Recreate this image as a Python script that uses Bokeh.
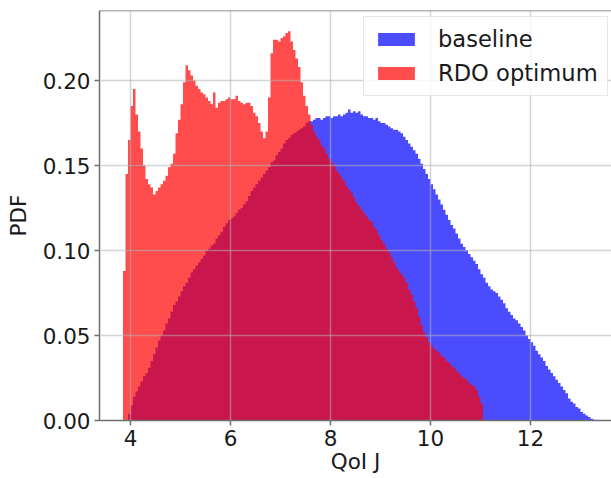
from bokeh.plotting import figure
from bokeh.models import Range1d, FixedTicker, NumeralTickFormatter, Span, Legend, LegendItem
from bokeh.embed import file_html
from bokeh.resources import INLINE

# ---- data (histogram PDFs, bin width 0.05) ----
bin_width = 0.05
baseline_start = 3.95
baseline_pdf = [
    0.004, 0.009, 0.014, 0.017, 0.020, 0.023, 0.026, 0.028, 0.031, 0.035,
    0.039, 0.043, 0.047, 0.050, 0.053, 0.057, 0.060, 0.064, 0.068, 0.070,
    0.073, 0.076, 0.079, 0.081, 0.084, 0.087, 0.089, 0.091, 0.093, 0.095,
    0.097, 0.100, 0.101, 0.103, 0.104, 0.107, 0.109, 0.111, 0.114, 0.116,
    0.118, 0.119, 0.120, 0.122, 0.124, 0.125, 0.127, 0.129, 0.132, 0.135,
    0.137, 0.139, 0.141, 0.143, 0.145, 0.147, 0.149, 0.152, 0.153, 0.156,
    0.158, 0.160, 0.163, 0.165, 0.166, 0.168, 0.169, 0.170, 0.171, 0.172,
    0.173, 0.175, 0.176, 0.176, 0.177, 0.178, 0.178, 0.177, 0.178, 0.179,
    0.179, 0.178, 0.179, 0.179, 0.180, 0.179, 0.180, 0.181, 0.183, 0.181,
    0.182, 0.181, 0.182, 0.180, 0.179, 0.179, 0.178, 0.178, 0.177, 0.178,
    0.176, 0.175, 0.175, 0.174, 0.173, 0.172, 0.171, 0.171, 0.170, 0.169,
    0.167, 0.165, 0.163, 0.161, 0.159, 0.157, 0.154, 0.151, 0.148, 0.145,
    0.142, 0.139, 0.136, 0.133, 0.130, 0.127, 0.124, 0.121, 0.118, 0.115,
    0.113, 0.110, 0.107, 0.104, 0.102, 0.100, 0.098, 0.096, 0.094, 0.092,
    0.089, 0.086, 0.084, 0.081, 0.079, 0.077, 0.076, 0.075, 0.073, 0.071,
    0.069, 0.066, 0.064, 0.062, 0.060, 0.059, 0.057, 0.055, 0.053, 0.050,
    0.048, 0.046, 0.044, 0.041, 0.039, 0.037, 0.035, 0.032, 0.030, 0.028,
    0.026, 0.024, 0.022, 0.020, 0.018, 0.016, 0.013, 0.011, 0.010, 0.008,
    0.007, 0.005, 0.004, 0.003, 0.002, 0.001, 0.0005,
]
rdo_start = 3.85
rdo_pdf = [
    0.088, 0.145, 0.165, 0.185, 0.195, 0.180, 0.170, 0.160, 0.150, 0.142,
    0.139, 0.137, 0.133, 0.135, 0.137, 0.139, 0.141, 0.144, 0.149, 0.151,
    0.157, 0.169, 0.177, 0.186, 0.199, 0.209, 0.206, 0.203, 0.200, 0.197,
    0.195, 0.193, 0.192, 0.190, 0.188, 0.186, 0.193, 0.184, 0.187, 0.188,
    0.188, 0.189, 0.190, 0.189, 0.189, 0.191, 0.188, 0.187, 0.186, 0.187,
    0.187, 0.185, 0.181, 0.179, 0.175, 0.170, 0.166, 0.170, 0.190, 0.216,
    0.224, 0.224, 0.223, 0.225, 0.226, 0.228, 0.229, 0.223, 0.218, 0.213,
    0.208, 0.199, 0.191, 0.185, 0.180, 0.174, 0.170, 0.167, 0.165, 0.162,
    0.160, 0.157, 0.154, 0.152, 0.150, 0.147, 0.145, 0.143, 0.141, 0.138,
    0.136, 0.134, 0.131, 0.128, 0.126, 0.124, 0.122, 0.120, 0.118, 0.117,
    0.114, 0.112, 0.109, 0.106, 0.104, 0.101, 0.099, 0.096, 0.093, 0.090,
    0.088, 0.086, 0.084, 0.081, 0.077, 0.074, 0.070, 0.066, 0.061, 0.056,
    0.052, 0.049, 0.046, 0.044, 0.042, 0.041, 0.040, 0.038, 0.037, 0.035,
    0.034, 0.032, 0.031, 0.029, 0.028, 0.026, 0.025, 0.024, 0.022, 0.021,
    0.020, 0.018, 0.014, 0.010,
]
series_names = ["baseline", "RDO optimum"]
x_ticks = [4, 6, 8, 10, 12]
y_ticks = [0.00, 0.05, 0.10, 0.15, 0.20]


def step_outline(start, width, vals):
    xs, ys = [start], [0.0]
    for i, v in enumerate(vals):
        left = start + i * width
        xs += [left, left + width]
        ys += [v, v]
    xs.append(start + len(vals) * width)
    ys.append(0.0)
    return xs, ys


FONT = "DejaVu Sans"
FS = "21.5px"

p = figure(width=611, height=478,
           x_range=Range1d(3.38, 13.62), y_range=Range1d(0, 0.2412),
           output_backend="svg", toolbar_location=None,
           min_border_left=99, min_border_right=0,
           min_border_top=10, min_border_bottom=58)
p.outline_line_color = None
p.background_fill_color = "white"
p.border_fill_color = "white"

bx, by = step_outline(baseline_start, bin_width, baseline_pdf)
rx, ry = step_outline(rdo_start, bin_width, rdo_pdf)
r_base = p.patch(bx, by, fill_color="#0000ff", fill_alpha=0.7, line_color=None)
r_rdo = p.patch(rx, ry, fill_color="#ff0000", fill_alpha=0.7, line_color=None)

# grid drawn over bars like the reference
for g in (p.xgrid, p.ygrid):
    g.grid_line_color = "#b0b0b0"
    g.grid_line_alpha = 0.55
    g.grid_line_width = 1.5
    g.level = "annotation"

p.xaxis.ticker = FixedTicker(ticks=x_ticks)
p.yaxis.ticker = FixedTicker(ticks=y_ticks)
p.yaxis.formatter = NumeralTickFormatter(format="0.00")
p.xaxis.axis_label = "QoI J"
p.yaxis.axis_label = "PDF"
for ax in (p.xaxis, p.yaxis):
    ax.axis_line_color = "#6e6e6e"
    ax.axis_line_width = 1.5
    ax.major_tick_line_color = "#6e6e6e"
    ax.major_tick_line_width = 1.5
    ax.major_tick_out = 5
    ax.major_tick_in = 0
    ax.minor_tick_line_color = None
    ax.major_label_standoff = 4
    ax.major_label_text_font = FONT
    ax.major_label_text_font_size = FS
    ax.major_label_text_color = "#1a1a1a"
    ax.axis_label_text_font = FONT
    ax.axis_label_text_font_size = FS
    ax.axis_label_text_font_style = "normal"
    ax.axis_label_text_color = "#1a1a1a"
p.xaxis.axis_label_standoff = 0
p.yaxis.axis_label_standoff = 9

top_spine = Span(location=0.2412, dimension="width", line_color="#6e6e6e",
                 line_width=1.5, level="annotation")
p.add_layout(top_spine)

legend = Legend(items=[LegendItem(label=series_names[0], renderers=[r_base]),
                       LegendItem(label=series_names[1], renderers=[r_rdo])],
                location=(264, 324))
legend.label_text_font = FONT
legend.label_text_font_size = "22.6px"
legend.label_text_color = "#1a1a1a"
legend.glyph_width = 46
legend.glyph_height = 16
legend.label_height = 25
legend.label_standoff = 19
legend.spacing = 8
legend.padding = 9
legend.margin = 0
legend.border_line_color = "#d0d0d0"
legend.border_line_width = 1.2
legend.background_fill_color = "white"
legend.background_fill_alpha = 0.8
p.add_layout(legend)

open("out.html", "w").write(file_html(p, INLINE))
